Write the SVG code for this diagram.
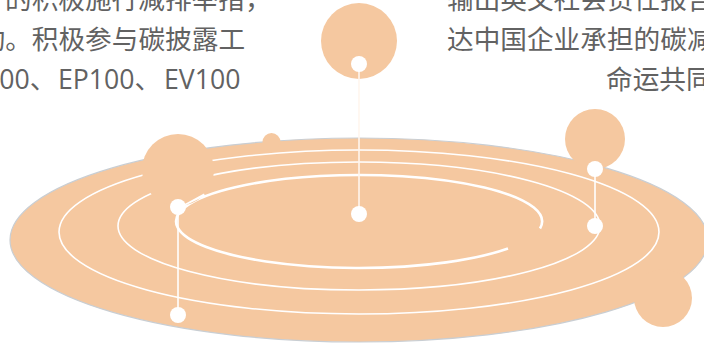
<svg xmlns="http://www.w3.org/2000/svg" width="704" height="343" viewBox="0 0 704 343">
<style>
.t{font-family:"Noto Sans CJK SC","Noto Sans",sans-serif;font-size:26.67px;fill:#626262}
.l{font-family:"Open Sans","Noto Sans CJK SC",sans-serif;font-size:26.67px;fill:#626262}
.b{fill:#f5c8a0}
.d{fill:#fff}
.r{fill:none;stroke:#fff;stroke-width:1.6}
.c{stroke:#fff;stroke-width:1.6}
</style>
<g id="base"><ellipse cx="359" cy="240" rx="349" ry="102" fill="#f5c8a0" stroke="#c9ced3" stroke-width="1.2"/></g>
<g id="rings">
<ellipse class="r" cx="359" cy="232" rx="300" ry="82"/>
<ellipse class="r" cx="359" cy="226" rx="241" ry="64"/>
<path class="r" style="stroke-width:2.6" d="M508 248.5A183 46.5 0 1 1 540 228.5"/>
</g>
<g id="bubbles">
<circle class="b" cx="178" cy="170" r="36"/>
<circle class="b" cx="271.500" cy="142" r="9"/>
<circle class="b" cx="359" cy="41" r="38"/>
<circle class="b" cx="595" cy="139" r="30"/>
<circle class="b" cx="663" cy="298" r="29"/>
</g>
<g id="connectors">
<line class="c" x1="359" y1="64" x2="359" y2="214" style="stroke:#fff6ee"/>
<line class="c" x1="595" y1="169" x2="595" y2="226"/>
<line class="c" x1="178" y1="207" x2="178" y2="315"/>
<polygon class="d" points="181,206 204,193.500 205,196 182,207"/>
</g>
<g id="node-a"><circle class="d" cx="359" cy="64" r="8"/><circle class="d" cx="359" cy="214" r="8"/></g>
<g id="node-b"><circle class="d" cx="595" cy="169" r="8"/><circle class="d" cx="595" cy="226" r="8"/></g>
<g id="node-c"><circle class="d" cx="178" cy="207" r="8"/><circle class="d" cx="178" cy="315" r="8"/></g>
<g id="text">
<text class="t" x="5" y="9">的积极施行减排举措，</text>
<text class="t" x="-21.500" y="49">动。积极参与碳披露工</text>
<text class="l" y="89"><tspan x="-16">100、</tspan><tspan x="58">EP100、</tspan><tspan x="164">EV100</tspan></text>
<text class="t" x="447" y="9">输出英文社会责任报告</text>
<text class="t" x="447" y="49">达中国企业承担的碳减</text>
<text class="t" x="606" y="89">命运共同</text>
</g>
</svg>
